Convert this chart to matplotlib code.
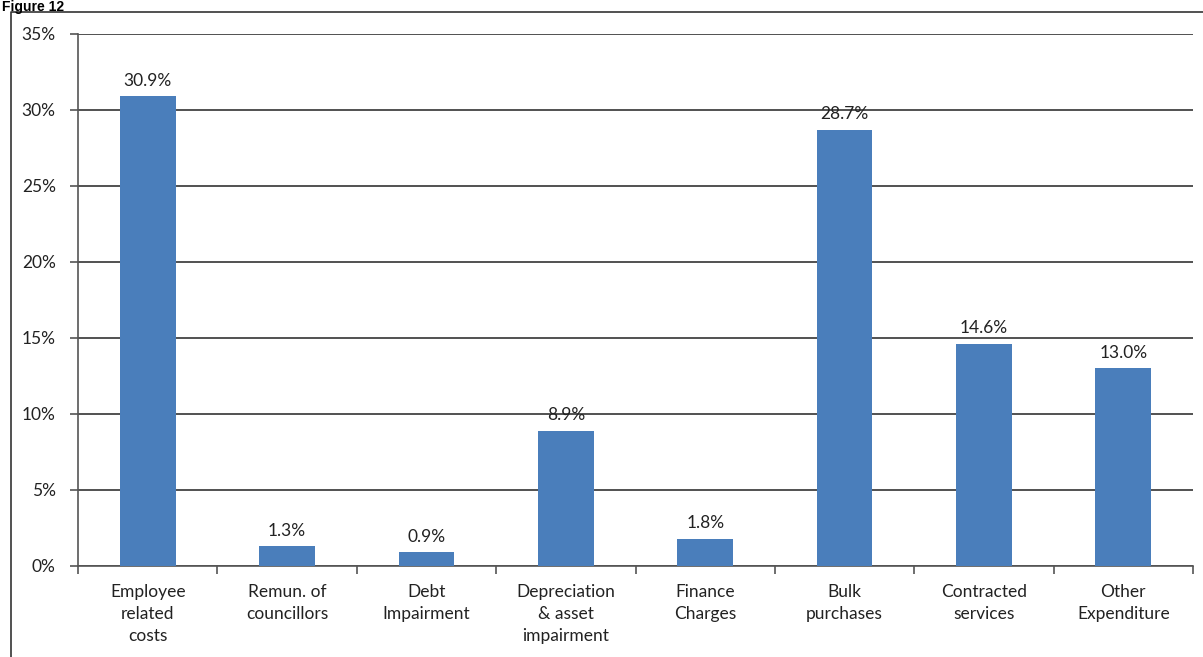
import matplotlib.pyplot as plt
from matplotlib.lines import Line2D
import numpy as np

categories = ['Employee\nrelated\ncosts', 'Remun. of\ncouncillors', 'Debt\nImpairment',
              'Depreciation\n& asset\nimpairment', 'Finance\nCharges', 'Bulk\npurchases',
              'Contracted\nservices', 'Other\nExpenditure']
shares = [30.9, 1.3, 0.9, 8.9, 1.8, 28.7, 14.6, 13.0]
yticks = [0, 5, 10, 15, 20, 25, 30, 35]

plt.rcParams['font.family'] = ['Lato', 'DejaVu Sans']
W, H = 1203, 657
fig = plt.figure(figsize=(W / 100, H / 100), dpi=100)
ax = fig.add_axes([78 / W, 1 - 566 / H, (1193 - 78) / W, (566 - 34) / H])

fs = 12.5
x = np.arange(len(categories))
ax.bar(x, shares, width=0.4, color='#4a7ebb', zorder=3)
for xi, v in zip(x, shares):
    ax.text(xi, v + 0.5, f'{v:.1f}%', ha='center', va='bottom', fontsize=fs, color='#222222')

ax.set_xlim(-0.5, len(categories) - 0.5)
ax.set_ylim(0, 35)
ax.set_yticks(yticks)
ax.set_yticklabels([f'{t}%' for t in yticks], fontsize=fs, color='#222222')
ax.set_xticks(np.arange(len(categories) + 1) - 0.5, minor=True)
ax.set_xticks(x)
ax.set_xticklabels(categories, fontsize=fs, color='#222222', linespacing=1.45)
ax.tick_params(axis='x', which='major', length=0, pad=13)
ax.tick_params(axis='x', which='minor', length=6, color='#555555', width=1.2)
ax.tick_params(axis='y', length=6, color='#555555', width=1.2, pad=10)
ax.grid(axis='y', color='#333333', linewidth=1.2, zorder=0)
for side in ['top', 'right']:
    ax.spines[side].set_visible(False)
for side in ['left', 'bottom']:
    ax.spines[side].set_color('#555555')
    ax.spines[side].set_linewidth(1.2)

# frame around the figure and its caption
fig.add_artist(Line2D([11 / W, 11 / W, 1.0], [0.0, 1 - 12 / H, 1 - 12 / H],
                      transform=fig.transFigure, color='#333333', linewidth=1.2))
fig.text(2 / W, 1 - 11 / H, 'Figure 12', fontsize=10, fontweight='bold',
         family='Liberation Sans', va='baseline', ha='left')

fig.savefig('out.png', dpi=100)
